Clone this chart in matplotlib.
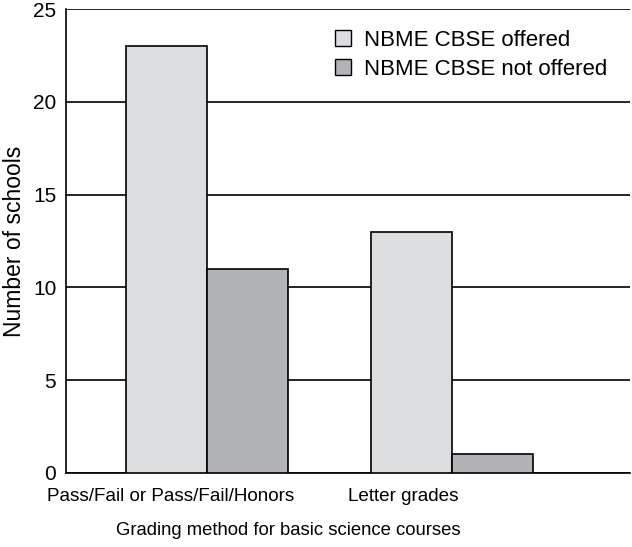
import matplotlib.pyplot as plt
import numpy as np

plt.rcParams['font.family'] = ['Liberation Sans', 'DejaVu Sans']

categories = ['Pass/Fail or Pass/Fail/Honors', 'Letter grades']
offered = [23, 13]
not_offered = [11, 1]
series_names = ['NBME CBSE offered', 'NBME CBSE not offered']

fig = plt.figure(figsize=(6.32, 5.47), dpi=100)
ax = fig.add_axes([0.1044, 0.1353, 0.8924, 0.8482])

x = np.arange(len(categories))
w = 0.33
ax.bar(x - w / 2, offered, w, color='#dcdddf', edgecolor='black', linewidth=1.2,
       label=series_names[0], zorder=3)
ax.bar(x + w / 2, not_offered, w, color='#b1b3b6', edgecolor='black', linewidth=1.2,
       label=series_names[1], zorder=3)

ax.set_xlim(-0.576, 1.727)
ax.set_ylim(0, 25)
ax.set_yticks([0, 5, 10, 15, 20, 25])
# labels in the original sit a bit left of the bar groups
ax.set_xticks(x + np.array([-0.15, -0.20]))
ax.set_xticklabels(categories)
ax.tick_params(axis='x', length=0, labelsize=13.6, pad=11)
ax.tick_params(axis='y', length=0, labelsize=15, pad=7)
ax.yaxis.grid(True, color='black', linewidth=1.2, zorder=0)
ax.set_axisbelow(True)
for s in ['top', 'right']:
    ax.spines[s].set_visible(False)
for s in ['left', 'bottom']:
    ax.spines[s].set_linewidth(1.2)

ax.set_ylabel('Number of schools', fontsize=16.5, labelpad=5)
ax.set_xlabel('Grading method for basic science courses', fontsize=13.3)
ax.xaxis.set_label_coords(0.394, -0.105)

leg = ax.legend(loc='upper left', bbox_to_anchor=(0.477, 0.955), frameon=False,
                fontsize=16, handlelength=0.7, handleheight=0.7, handletextpad=0.6,
                labelspacing=0.35, borderpad=0, borderaxespad=0)
for h in leg.legend_handles:
    h.set_linewidth(1.0)

fig.savefig('out.png', dpi=100)
